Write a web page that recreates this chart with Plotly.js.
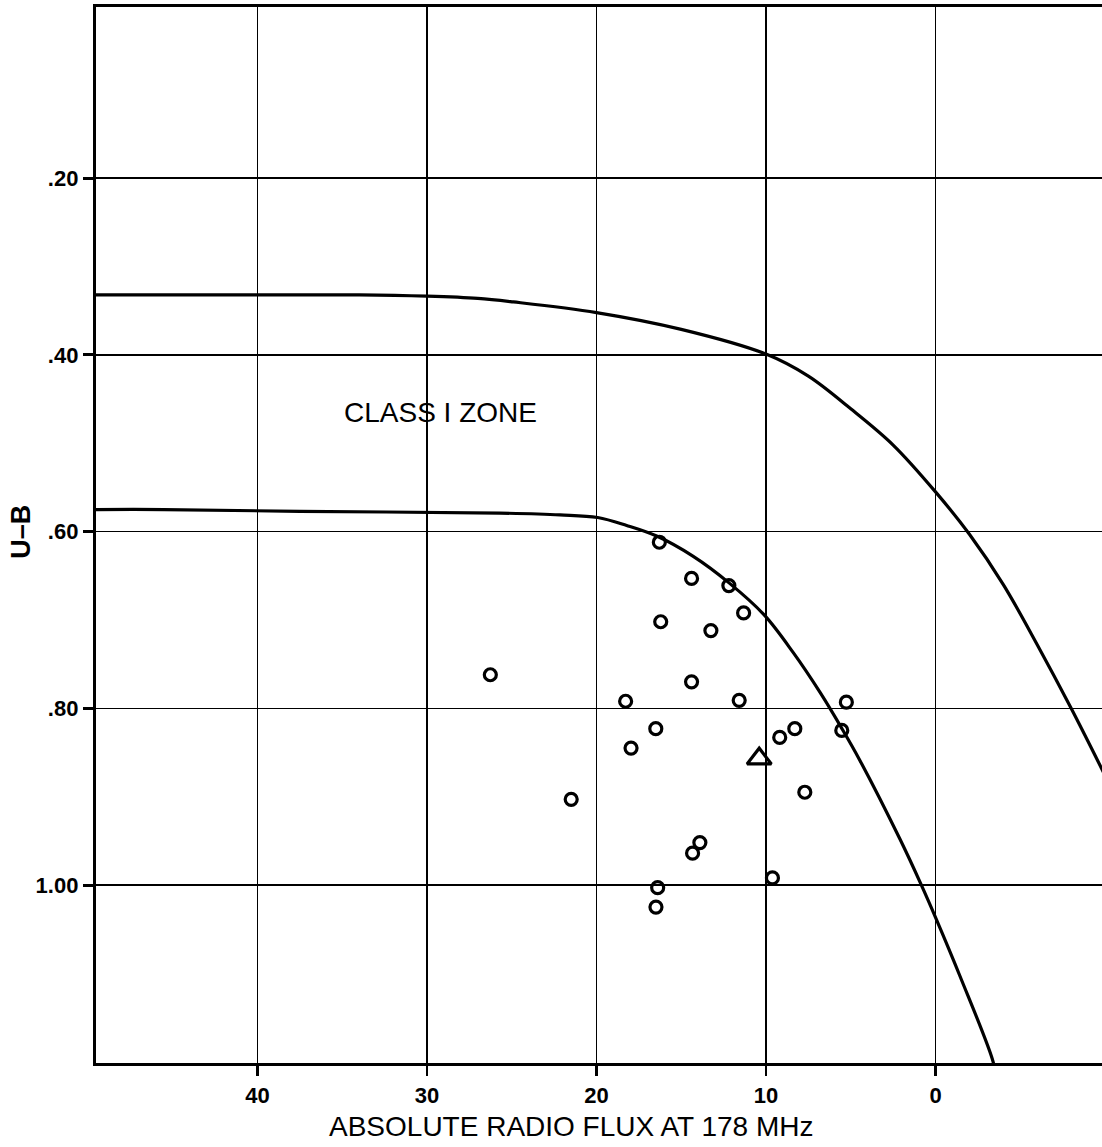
<!DOCTYPE html>
<html>
<head>
<meta charset="utf-8">
<script src="https://cdn.plot.ly/plotly-3.0.1.min.js"></script>
<style>html,body{margin:0;padding:0;background:#fff;}#chart{width:1102px;height:1147px;}</style>
</head>
<body>
<div id="chart"></div>
<script>
// Radio flux (x, reversed axis) vs U-B colour (y, reversed axis)
const circleFlux = [16.29, 14.39, 12.19, 11.32, 16.21, 13.25, 14.39, 18.28, 11.58, 5.26, 16.50, 17.96, 9.19, 8.30, 5.53, 26.26, 21.49, 7.71, 13.90, 14.33, 9.62, 16.39, 16.49];
const circleUB   = [0.612, 0.653, 0.661, 0.692, 0.702, 0.712, 0.770, 0.792, 0.791, 0.793, 0.823, 0.845, 0.833, 0.823, 0.825, 0.762, 0.903, 0.895, 0.952, 0.964, 0.992, 1.003, 1.025];
const triangleFlux = [10.40];
const triangleUB   = [0.857];

const upperCurveFlux = [49.6, 40, 34, 30, 27, 24.9, 20, 15, 10, 7.5, 5, 2.5, 0, -2, -4, -6, -8, -10];
const upperCurveUB   = [0.332, 0.332, 0.332, 0.3335, 0.336, 0.340, 0.352, 0.371, 0.399, 0.424, 0.461, 0.502, 0.555, 0.603, 0.660, 0.728, 0.800, 0.876];

const lowerCurveFlux = [49.6, 45.5, 37.5, 25.7, 22.15, 19.93, 18.22, 16.45, 14.29, 12.18, 10.12, 8.39, 6.81, 5.52, 4.46, 2.10, 0.86, -0.03, -1.44, -3.41, -3.5];
const lowerCurveUB   = [0.575, 0.575, 0.577, 0.579, 0.581, 0.584, 0.593, 0.605, 0.628, 0.658, 0.694, 0.737, 0.782, 0.823, 0.859, 0.948, 0.999, 1.038, 1.103, 1.201, 1.215];

const xTickVals = [40, 30, 20, 10, 0];
const xTickText = ['40', '30', '20', '10', '0'];
const yTickVals = [0.2, 0.4, 0.6, 0.8, 1.0];
const yTickText = ['.20', '.40', '.60', '.80', '1.00'];

const zoneLabel = 'CLASS I ZONE';
const xTitle = 'ABSOLUTE RADIO FLUX AT 178 MHz';
const yTitle = 'U\u2013B';

const FONT = 'Arial, "Liberation Sans", Helvetica, sans-serif';

const traces = [
  {x: upperCurveFlux, y: upperCurveUB, mode: 'lines', type: 'scatter',
   line: {color: '#000', width: 3.2, shape: 'spline', smoothing: 1}, hoverinfo: 'skip', showlegend: false},
  {x: lowerCurveFlux, y: lowerCurveUB, mode: 'lines', type: 'scatter',
   line: {color: '#000', width: 3.2, shape: 'spline', smoothing: 1}, hoverinfo: 'skip', showlegend: false},
  {x: circleFlux, y: circleUB, mode: 'markers', type: 'scatter',
   marker: {symbol: 'circle-open', size: 12, color: '#000', line: {color: '#000', width: 3.2}}, showlegend: false},
  {x: triangleFlux, y: triangleUB, mode: 'markers', type: 'scatter',
   marker: {symbol: 'triangle-up-open', size: 21, color: '#000', line: {color: '#000', width: 3.2}}, showlegend: false}
];

const layout = {
  width: 1102, height: 1147,
  margin: {l: 96, r: 0, t: 7, b: 84},
  paper_bgcolor: '#fff', plot_bgcolor: '#fff',
  showlegend: false,
  font: {family: FONT, color: '#000'},
  xaxis: {
    range: [49.52, -9.82],
    tickvals: xTickVals, ticktext: xTickText,
    tickfont: {family: FONT, size: 22, color: '#000', weight: 'bold'},
    ticks: 'outside', ticklen: 10, tickwidth: 2.5, tickcolor: '#000',
    showgrid: true, gridcolor: '#000', gridwidth: 1.6,
    zeroline: false,
    showline: true, linecolor: '#000', linewidth: 3.2, mirror: true
  },
  yaxis: {
    range: [1.2015, 0.0061],
    tickvals: yTickVals, ticktext: yTickText,
    tickfont: {family: FONT, size: 22, color: '#000', weight: 'bold'},
    ticks: 'outside', ticklen: 10, tickwidth: 3, tickcolor: '#000',
    showgrid: true, gridcolor: '#000', gridwidth: 1.6,
    zeroline: false,
    showline: true, linecolor: '#000', linewidth: 3.2, mirror: false
  },
  annotations: [
    {text: zoneLabel, x: 29.2, y: 0.4646, xref: 'x', yref: 'y', showarrow: false,
     font: {family: FONT, size: 28, color: '#000'}},
    {text: xTitle, x: 21.5, y: 0, xref: 'x', yref: 'paper', yanchor: 'middle', yshift: -63, showarrow: false,
     font: {family: FONT, size: 28, color: '#000'}},
    {text: yTitle, x: 0, y: 0.6, xref: 'paper', yref: 'y', xanchor: 'center', xshift: -75, textangle: -90, showarrow: false,
     font: {family: FONT, size: 27, color: '#000', weight: 'bold'}}
  ]
};

Plotly.newPlot('chart', traces, layout, {displayModeBar: false, staticPlot: true});
</script>
</body>
</html>
